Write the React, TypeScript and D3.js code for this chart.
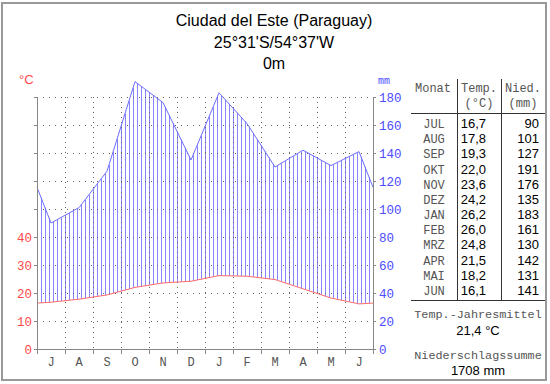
import React from "react";
import * as d3 from "d3";

// climate data, Ciudad del Este (Jul..Jun)
const monthLetters = ["J", "A", "S", "O", "N", "D", "J", "F", "M", "A", "M", "J"];
const monthNames = ["JUL", "AUG", "SEP", "OKT", "NOV", "DEZ", "JAN", "FEB", "MRZ", "APR", "MAI", "JUN"];
const temps = [16.7, 17.8, 19.3, 22.0, 23.6, 24.2, 26.2, 26.0, 24.8, 21.5, 18.2, 16.1];
const precip = [90, 101, 127, 191, 176, 135, 183, 161, 130, 142, 131, 141];
const tempTicks = [0, 10, 20, 30, 40, 50, 60, 70, 80, 90];
const tempLabels = [0, 10, 20, 30, 40];
const precipTicks = [0, 20, 40, 60, 80, 100, 120, 140, 160, 180];
const titleLines = ["Ciudad del Este (Paraguay)", "25°31'S/54°37'W", "0m"];
const annualTemp = "21,4 °C";
const annualPrecip = "1708 mm";

const MONO = "'Liberation Mono', 'DejaVu Sans Mono', monospace";
const SANS = "'Liberation Sans', Arial, sans-serif";
const RED = "#ff4a4a";
const BLUE = "#4b4bff";
const GRID = "#666";
const TXT = "#555";

const fmt = (v: number) => v.toFixed(1).replace(".", ",");

export default function App() {
  const x = d3.scaleLinear().domain([0, 12]).range([37, 373]);
  const yT = d3.scaleLinear().domain([0, 90]).range([349, 97]);
  const yP = d3.scaleLinear().domain([0, 180]).range([349, 97]);

  // line points: mid-months plus the wrapped edges
  const edgeT = (temps[0] + temps[11]) / 2;
  const edgeP = (precip[0] + precip[11]) / 2;
  const xs = [0, ...temps.map((_, i) => i + 0.5), 12];
  const tv = [edgeT, ...temps, edgeT];
  const pv = [edgeP, ...precip, edgeP];

  const tAt = d3.scaleLinear().domain(xs).range(tv);
  const pAt = d3.scaleLinear().domain(xs).range(pv);

  const tLine = d3
    .line<number>()
    .x((d) => x(d))
    .y((d) => yT(tAt(d)));
  const pLine = d3
    .line<number>()
    .x((d) => x(d))
    .y((d) => yP(pAt(d)));

  const hatch = d3.range(0, 12.0001, 1 / 7);

  const rowY = d3.scaleLinear().domain([0, 11]).range([128, 295]);

  return (
    <div style={{ position: "absolute", left: 0, top: 0 }}>
      <svg width={550} height={384} style={{ display: "block", background: "#fff" }}>
        <rect x={2} y={3} width={544} height={377} fill="#fff" stroke="#999" strokeWidth={2} />

        {titleLines.map((t, i) => (
          <text key={i} x={274} y={26 + i * 21.5} textAnchor="middle" fontFamily={SANS} fontSize={16} fill="#000">
            {t}
          </text>
        ))}

        {/* hatching between temperature and precipitation */}
        {hatch.map((m, i) => {
          const top = yP(pAt(m));
          const bot = yT(tAt(m));
          return (
            <rect
              key={i}
              x={Math.round(x(m))}
              y={Math.min(top, bot)}
              width={1}
              height={Math.abs(bot - top)}
              fill="#8585ff"
            />
          );
        })}

        {/* dotted grid */}
        <g shapeRendering="crispEdges">
          {precipTicks.slice(1).map((p) => (
            <line key={"h" + p} x1={x(0)} x2={x(12)} y1={yP(p) + 0.5} y2={yP(p) + 0.5} stroke={GRID} strokeDasharray="1,5" />
          ))}
          {d3.range(1, 12).map((m) => (
            <line key={"v" + m} x1={x(m) + 0.5} x2={x(m) + 0.5} y1={yP(180)} y2={yP(0)} stroke={GRID} strokeDasharray="1,4" />
          ))}
        </g>

        <path d={pLine(xs) || ""} fill="none" stroke="#6d6dff" strokeWidth={1} />
        <path d={tLine(xs) || ""} fill="none" stroke="#ff6a6a" strokeWidth={1} />

        {/* axes */}
        <g shapeRendering="crispEdges" stroke="#888">
          <line x1={x(0) + 0.5} x2={x(0) + 0.5} y1={yT(90)} y2={yT(0) + 5} />
          <line x1={x(12) + 0.5} x2={x(12) + 0.5} y1={yP(180)} y2={yP(0) + 5} />
          <line x1={x(0)} x2={x(12)} y1={yT(0) + 0.5} y2={yT(0) + 0.5} />
          {tempTicks.map((t) => (
            <line key={"lt" + t} x1={x(0) - 3} x2={x(0)} y1={yT(t) + 0.5} y2={yT(t) + 0.5} />
          ))}
          {precipTicks.map((p) => (
            <line key={"rp" + p} x1={x(12)} x2={x(12) + 3} y1={yP(p) + 0.5} y2={yP(p) + 0.5} />
          ))}
          {d3.range(0, 13).map((m) => (
            <line key={"bt" + m} x1={x(m) + 0.5} x2={x(m) + 0.5} y1={yT(0)} y2={yT(0) + 5} />
          ))}
        </g>

        {tempLabels.map((t) => (
          <text key={"ll" + t} x={32} y={yT(t) + 5} textAnchor="end" fontFamily={MONO} fontSize={12.5} fill={RED}>
            {t}
          </text>
        ))}
        <text x={19} y={84} fontFamily={SANS} fontSize={13} fill={RED}>
          °C
        </text>

        {precipTicks.map((p) => (
          <text key={"pl" + p} x={379} y={yP(p) + 5} fontFamily={MONO} fontSize={12.5} fill={BLUE}>
            {p}
          </text>
        ))}
        <text x={378} y={84} fontFamily={MONO} fontSize={10} fill={BLUE}>
          mm
        </text>

        {monthLetters.map((l, i) => (
          <text key={"ml" + i} x={x(i + 0.5)} y={366} textAnchor="middle" fontFamily={MONO} fontSize={12} fill={TXT}>
            {l}
          </text>
        ))}

        {/* table */}
        <g shapeRendering="crispEdges" stroke="#333">
          <line x1={457.5} x2={457.5} y1={79} y2={300} />
          <line x1={501.5} x2={501.5} y1={79} y2={300} />
          <line x1={411} x2={545} y1={113.5} y2={113.5} />
          <line x1={411} x2={545} y1={300.5} y2={300.5} />
        </g>

        <text x={433} y={92} textAnchor="middle" fontFamily={MONO} fontSize={12} fill={TXT}>Monat</text>
        <text x={479} y={92} textAnchor="middle" fontFamily={MONO} fontSize={12} fill={TXT}>Temp.</text>
        <text x={479} y={107} textAnchor="middle" fontFamily={MONO} fontSize={12} fill={TXT}>(°C)</text>
        <text x={523} y={92} textAnchor="middle" fontFamily={MONO} fontSize={12} fill={TXT}>Nied.</text>
        <text x={523} y={107} textAnchor="middle" fontFamily={MONO} fontSize={12} fill={TXT}>(mm)</text>

        {monthNames.map((n, i) => (
          <g key={"row" + i}>
            <text x={434} y={rowY(i)} textAnchor="middle" fontFamily={MONO} fontSize={12} fill={TXT}>
              {n}
            </text>
            <text x={486} y={rowY(i)} textAnchor="end" fontFamily={SANS} fontSize={13} fill="#000">
              {fmt(temps[i])}
            </text>
            <text x={539} y={rowY(i)} textAnchor="end" fontFamily={SANS} fontSize={13} fill="#000">
              {precip[i]}
            </text>
          </g>
        ))}

        <text x={478} y={318} textAnchor="middle" fontFamily={MONO} fontSize={11.8} fill={TXT}>Temp.-Jahresmittel</text>
        <text x={478} y={335} textAnchor="middle" fontFamily={SANS} fontSize={13} fill="#000">{annualTemp}</text>
        <text x={478} y={359} textAnchor="middle" fontFamily={MONO} fontSize={11.8} fill={TXT}>Niederschlagssumme</text>
        <text x={478} y={375} textAnchor="middle" fontFamily={SANS} fontSize={13} fill="#000">{annualPrecip}</text>
      </svg>
    </div>
  );
}
